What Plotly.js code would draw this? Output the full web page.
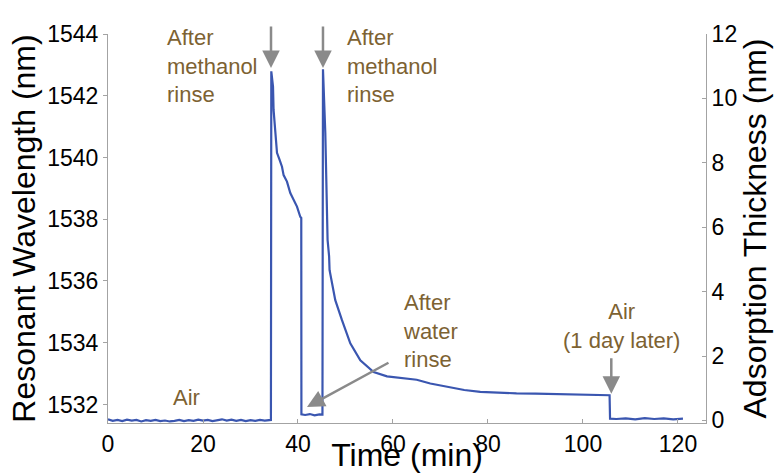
<!DOCTYPE html>
<html>
<head>
<meta charset="utf-8">
<script src="https://cdn.plot.ly/plotly-3.0.1.min.js"></script>
<style>html,body{margin:0;padding:0;background:#fff}#chart{width:775px;height:473px}</style>
</head>
<body>
<div id="chart"></div>
<script>
// Time (min)
const timeMin = [
  0,1,2,3,4,5,6,7,8,9,10,11,12,13,14,15,16,17,18,19,20,21,22,23,24,25,26,27,28,29,30,31,32,33,34,34.3,
  34.38,34.74,34.86,35.22,35.58,36.13,36.63,36.97,37.68,38.38,39.07,39.79,40.48,40.69,
  40.72,41.5,42.5,43.5,44.5,45.15,
  45.26,45.75,46.23,46.44,46.55,46.65,47.85,49.26,51.01,53.12,55.92,58.74,62.95,65,67.85,70,72.76,75,78.38,82,86,90,95.22,100,105.6,
  105.7,107,109,111,113,115,117,119,121.05
];
// Resonant wavelength (nm)
const wavelength = [
  1531.52,1531.47,1531.50,1531.46,1531.51,1531.48,1531.50,1531.45,1531.49,1531.47,1531.50,1531.46,1531.48,1531.45,1531.47,1531.50,1531.46,1531.49,1531.47,1531.51,1531.48,1531.50,1531.46,1531.49,1531.52,1531.48,1531.51,1531.47,1531.50,1531.46,1531.49,1531.47,1531.50,1531.48,1531.51,1531.50,
  1542.79,1542.30,1541.54,1540.80,1540.15,1539.92,1539.70,1539.43,1539.22,1538.85,1538.63,1538.41,1538.08,1538.04,
  1531.68,1531.66,1531.69,1531.65,1531.68,1531.67,
  1542.86,1540.80,1537.33,1537.00,1536.80,1536.35,1535.38,1534.73,1533.98,1533.43,1533.05,1532.91,1532.84,1532.80,1532.68,1532.62,1532.52,1532.47,1532.41,1532.38,1532.36,1532.35,1532.33,1532.31,1532.30,
  1531.54,1531.53,1531.55,1531.52,1531.56,1531.53,1531.55,1531.52,1531.54
];
const xTicks = [0,20,40,60,80,100,120];
const yTicks = [1532,1534,1536,1538,1540,1542,1544];
const y2Ticks = [0,2,4,6,8,10,12];

const FONT = 'Liberation Sans, Arial, sans-serif';
const AXC = '#a3a3a3';
const TXT = '#7d6232';
const ARC = '#8a8a8a';

const traces = [
  {x: timeMin, y: wavelength, type: 'scatter', mode: 'lines',
   line: {color: '#3a56b0', width: 2.2}, showlegend: false, hoverinfo: 'skip'},
  {x: [null], y: [null], yaxis: 'y2', type: 'scatter', mode: 'lines', showlegend: false, hoverinfo: 'skip'}
];

function arrow(x, y, ax, ay) {
  return {x: x, y: y, xref: 'x', yref: 'y', text: '', showarrow: true,
    ax: ax, ay: ay, arrowhead: 2, arrowsize: 1.4, arrowwidth: 2.5, arrowcolor: ARC, standoff: 0};
}
function label(text, x, y, xanchor, align) {
  return {x: x, y: y, xref: 'x', yref: 'y', text: text, showarrow: false,
    xanchor: xanchor, yanchor: 'middle', align: align,
    font: {family: FONT, size: 22, color: TXT}};
}

const layout = {
  width: 775, height: 473,
  margin: {l: 108, r: 69, t: 34, b: 50},
  paper_bgcolor: '#fff', plot_bgcolor: '#fff',
  font: {family: FONT, color: '#000'},
  xaxis: {
    range: [0, 125.9], tickvals: xTicks, ticktext: xTicks.map(String),
    ticks: 'inside', ticklen: 4, tickcolor: AXC, showline: true, linecolor: AXC, linewidth: 1,
    showgrid: false, zeroline: false, tickfont: {size: 23, color: '#000'},
    title: {text: 'Time (min)', font: {size: 32, color: '#000'}, standoff: 5}
  },
  yaxis: {
    range: [1531.4, 1544], tickvals: yTicks, ticktext: yTicks.map(String),
    ticks: 'outside', ticklen: 4, tickcolor: AXC, showline: true, linecolor: AXC, linewidth: 1,
    showgrid: false, zeroline: false, tickfont: {size: 23, color: '#000'},
    title: {text: 'Resonant Wavelength (nm)', font: {size: 32, color: '#000'}, standoff: 2}
  },
  yaxis2: {
    overlaying: 'y', side: 'right', range: [-0.08, 12], tickvals: y2Ticks, ticktext: y2Ticks.map(String),
    ticks: 'inside', ticklen: 4, tickcolor: AXC, showline: true, linecolor: AXC, linewidth: 1,
    showgrid: false, zeroline: false, tickfont: {size: 23, color: '#000'},
    title: {text: 'Adsorption Thickness (nm)', font: {size: 32, color: '#000'}, standoff: 4}
  },
  annotations: [
    label('After<br>methanol<br>rinse', 11.9, 1542.97, 'left', 'left'),
    label('After<br>methanol<br>rinse', 49.8, 1542.97, 'left', 'left'),
    label('After<br>water<br>rinse', 61.6, 1534.37, 'left', 'left'),
    label('Air<br>(1 day later)', 108.13, 1534.55, 'center', 'center'),
    label('Air', 16.5, 1532.23, 'center', 'center'),
    arrow(34.32, 1542.9, 0, -43),
    arrow(45.26, 1542.9, 0, -43),
    arrow(41.89, 1531.92, 83, -45),
    arrow(105.96, 1532.35, 0, -37)
  ]
};

Plotly.newPlot('chart', traces, layout, {staticPlot: true, displayModeBar: false});
</script>
</body>
</html>
